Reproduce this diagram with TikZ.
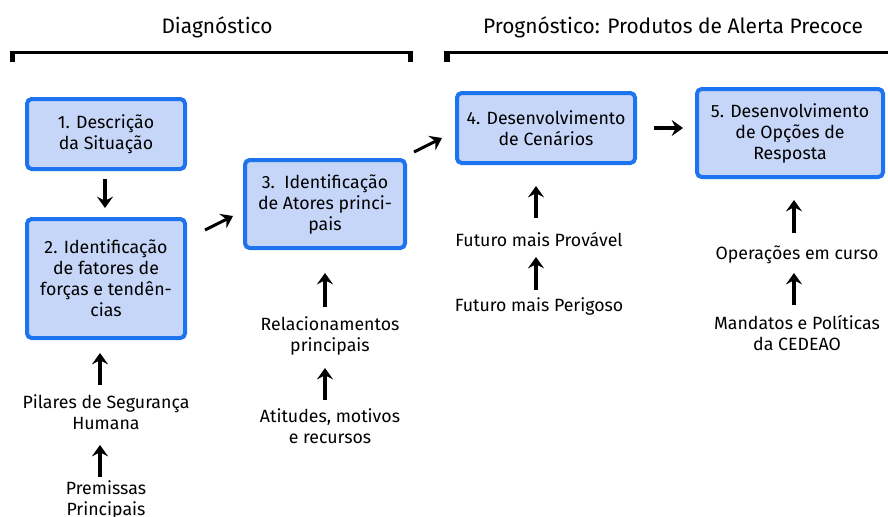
\documentclass[tikz,border=0pt]{standalone}
\usepackage{fontspec}
\setmainfont{Fira Sans}
\usetikzlibrary{arrows.meta}
\definecolor{boxblue}{RGB}{30,116,238}
\definecolor{boxfill}{RGB}{198,214,248}
\begin{document}
\begin{tikzpicture}[x=0.75pt,y=-0.75pt,
  every node/.style={font=\fontsize{13.3pt}{15.75pt}\selectfont, align=center, inner sep=0pt},
  titletext/.style={font=\fontsize{15.7pt}{18pt}\selectfont},
  stepbox/.style={draw=boxblue, fill=boxfill, line width=3pt, rounded corners=3.5pt, inner sep=2pt},
  arr/.style={line width=2.3pt, -{Stealth[length=8.5pt,width=12pt,inset=3pt]}},
  brk/.style={fill=black}]
\useasboundingbox (0,0) rectangle (888,517);
% titles
\node[titletext] (tdiag) at (217,27) {Diagnóstico};
\node[titletext] (tprog) at (673,27) {Prognóstico: Produtos de Alerta Precoce};
% brackets
\fill[brk] (10,51) rectangle (413,54.5);
\fill[brk] (10,51) rectangle (15,62);
\fill[brk] (408,51) rectangle (413,62);
\fill[brk] (444,51) rectangle (888,54.5);
\fill[brk] (444,51) rectangle (450,62);
% boxes
\node[stepbox, minimum width=118.5pt, minimum height=52.5pt] (b1) at (106,134) {1. Descrição\\da Situação};
\node[stepbox, minimum width=118.5pt, minimum height=89.25pt] (b2) at (106,278.5) {2. Identificação\\de fatores de\\forças e tendên-\\cias};
\node[stepbox, minimum width=120pt, minimum height=66pt] (b3) at (325,204) {3.\ \ Identificação\\de Atores princi-\\pais};
\node[stepbox, minimum width=133.5pt, minimum height=52.5pt] (b4) at (546,128) {4. Desenvolvimento\\de Cenários};
\node[stepbox, minimum width=139.5pt, minimum height=66pt] (b5) at (790,133) {5. Desenvolvimento\\de Opções de\\Resposta};
% text nodes
\node (rel) at (330,336) {Relacionamentos\\principais};
\node (ati) at (330,426) {Atitudes, motivos\\e recursos};
\node (pil) at (106,412) {Pilares de Segurança\\Humana};
\node (pre) at (106,500) {Premissas\\Principais};
\node (fpr) at (539,240) {Futuro mais Provável};
\node (fpe) at (539,306) {Futuro mais Perigoso};
\node (ope) at (797,255) {Operações em curso};
\node (man) at (797,333) {Mandatos e Políticas\\da CEDEAO};
% arrows
\draw[arr] ([shift={(-1,8)}]b1.south) -- ([shift={(-1,-9)}]b2.north);
\draw[arr] ([shift={(18,-48.5)}]b2.east) -- ([shift={(-10,12)}]b3.west);
\draw[arr] ([shift={(7,-52)}]b3.east) -- ([shift={(-13,10)}]b4.west);
\draw[arr] ([shift={(17,0)}]b4.east) -- ([shift={(-12,-5)}]b5.west);
\draw[arr] ([shift={(0,57)}]b3.south) -- ([shift={(0,23)}]b3.south);
\draw[arr] (b3.south |- 0,400) -- (b3.south |- 0,368);
\draw[arr] ([shift={(-6,0)}]b2.south |- 0,385) -- ([shift={(-6,0)}]b2.south |- 0,353);
\draw[arr] ([shift={(-6,0)}]b2.south |- 0,477) -- ([shift={(-6,0)}]b2.south |- 0,445);
\coordinate (c4) at ([shift={(-10,0)}]b4.south);
\draw[arr] (c4 |- 0,218) -- (c4 |- 0,186);
\draw[arr] (c4 |- 0,290) -- (c4 |- 0,257);
\draw[arr] ([shift={(4,0)}]b5.south |- 0,233) -- ([shift={(4,0)}]b5.south |- 0,200);
\draw[arr] ([shift={(4,0)}]b5.south |- 0,305) -- ([shift={(4,0)}]b5.south |- 0,273);
\end{tikzpicture}
\end{document}
